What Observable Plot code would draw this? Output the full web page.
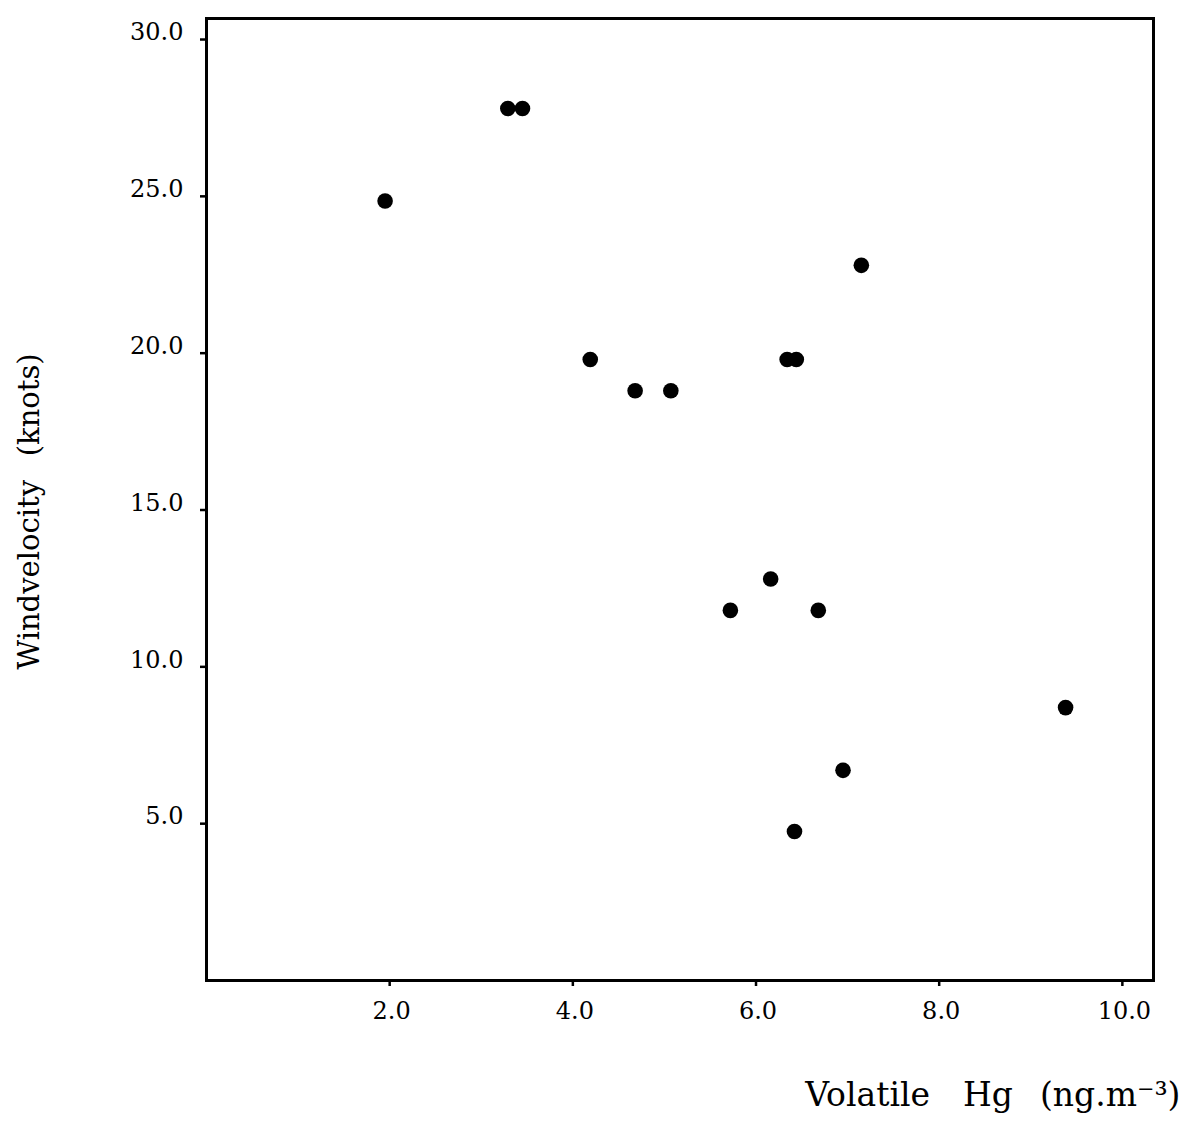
<!DOCTYPE html>
<html>
<head>
<meta charset="utf-8">
<script src="https://cdn.jsdelivr.net/npm/d3@7"></script>
<script src="https://cdn.jsdelivr.net/npm/@observablehq/plot@0.6"></script>
<style>
  body { margin: 0; background: #fff; }
  svg text { white-space: pre; }
</style>
</head>
<body>
<div id="chart"></div>
<script>
const hg = [1.95, 3.29, 3.45, 7.15, 4.19, 4.68, 5.07, 6.34, 6.44, 6.16, 5.72, 6.68, 9.38, 6.95, 6.42];
const wind = [24.85, 27.8, 27.8, 22.8, 19.8, 18.8, 18.8, 19.8, 19.8, 12.8, 11.8, 11.8, 8.7, 6.7, 4.75];
const xTicks = [2, 4, 6, 8, 10];
const yTicks = [5, 10, 15, 20, 25, 30];
const xTitle = "Volatile\u2003Hg\u2002 (ng.m\u207B\u00B3)";
const yTitle = "Windvelocity \u2002(knots)";

const data = hg.map((h, i) => ({hg: h, wind: wind[i]}));
const fmt = d3.format(".1f");

const chart = Plot.plot({
  width: 1182,
  height: 1141,
  marginLeft: 206,
  marginRight: 29,
  marginTop: 18,
  marginBottom: 161,
  style: {fontFamily: "'DejaVu Serif', serif", background: "white", color: "black"},
  x: {domain: [0, 10.34]},
  y: {domain: [0, 30.67]},
  marks: [
    Plot.frame({stroke: "black", strokeWidth: 3}),
    Plot.axisX({ticks: xTicks, text: null, tickSize: 6, strokeWidth: 2.5, label: null}),
    Plot.axisX({ticks: xTicks, tickFormat: fmt, tickSize: 0, tickPadding: 21, fontSize: 24, label: null, dx: 2}),
    Plot.axisY({ticks: yTicks, text: null, tickSize: 6, strokeWidth: 2.5, label: null}),
    Plot.axisY({ticks: yTicks, tickFormat: fmt, tickSize: 0, tickPadding: 23, fontSize: 24, label: null, dy: -7}),
    Plot.dot(data, {x: "hg", y: "wind", r: 7.8, fill: "black", stroke: "none"}),
    Plot.text([xTitle], {frameAnchor: "bottom-right", dx: 27, dy: 125, textAnchor: "end", lineAnchor: "bottom", fontSize: 33}),
    Plot.text([yTitle], {frameAnchor: "left", dx: -177, dy: 12, rotate: -90, textAnchor: "middle", fontSize: 29})
  ]
});
document.getElementById("chart").appendChild(chart);
</script>
</body>
</html>
